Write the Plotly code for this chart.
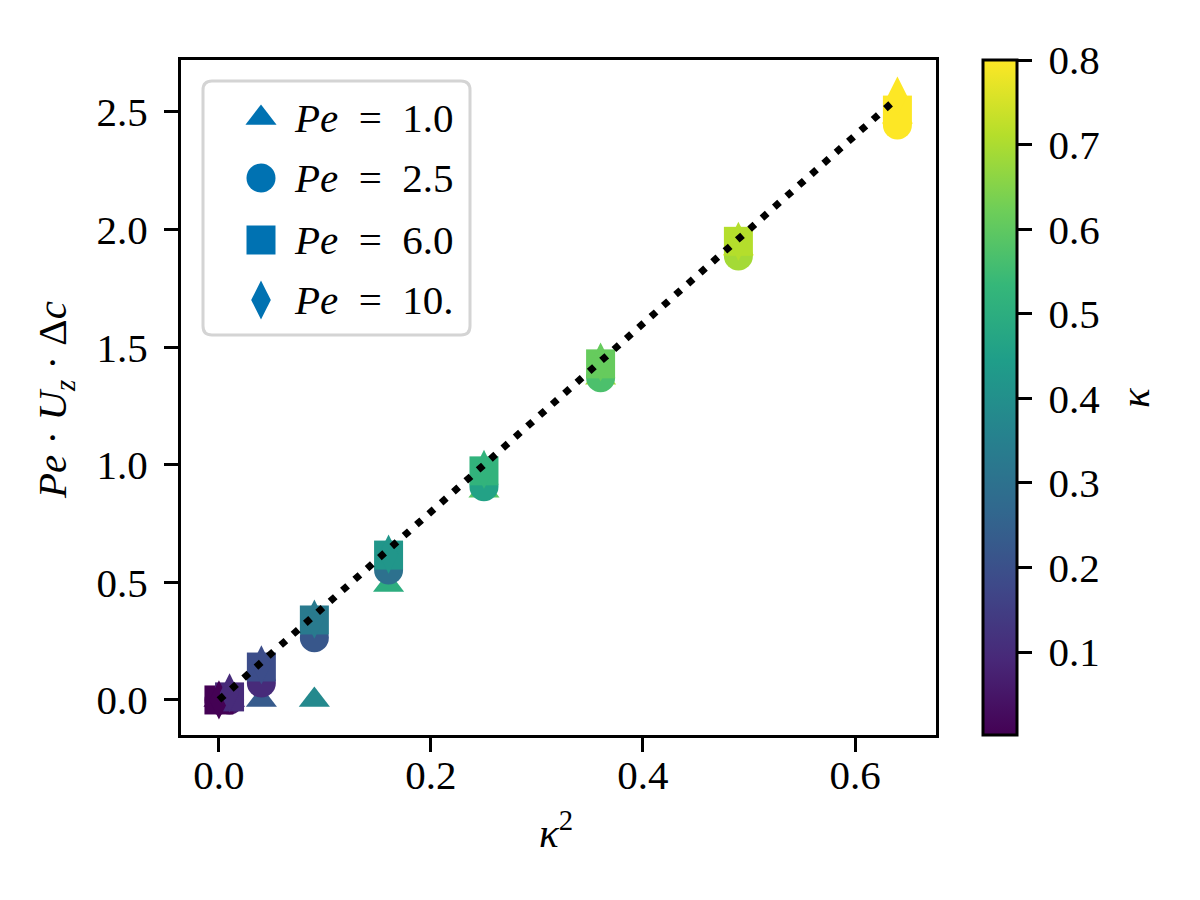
"""Pe*Uz*dc against kappa^2, coloured by kappa, one marker per Pe."""
import plotly.graph_objects as go

# --- data ---
kappa_sq = [0.0, 0.01, 0.04, 0.09, 0.16, 0.25, 0.36, 0.49, 0.64]

pe_labels = ["1.0", "2.5", "6.0", "10."]

y_pe1 = [0.0, 0.0, 0.0, 0.0, 0.489, 0.889, 1.37, 1.92, 2.48]
y_pe25 = [0.0, 0.0, 0.072, 0.264, 0.553, 0.906, 1.37, 1.888, 2.445]
y_pe6 = [0.0, 0.013, 0.14, 0.34, 0.616, 0.974, 1.429, 1.95, 2.508]
y_pe10 = [0.0, 0.03, 0.149, 0.344, 0.62, 0.98, 1.437, 1.95, 2.568]

# colour value (kappa) of each marker as it appears in the picture
c_pe1 = [0.002, 0.1, 0.23, 0.38, 0.5, 0.59, 0.69, 0.78, 0.8]
c_pe25 = [0.002, 0.05, 0.1, 0.22, 0.3, 0.46, 0.57, 0.69, 0.8]
c_pe6 = [0.002, 0.1, 0.19, 0.33, 0.42, 0.52, 0.61, 0.71, 0.8]
c_pe10 = [0.002, 0.1, 0.19, 0.33, 0.42, 0.52, 0.61, 0.71, 0.8]

# dotted reference line
line_x = [0.0, 0.64]
line_y = [0.0, 2.56]

x_ticks = [0.0, 0.2, 0.4, 0.6]
y_ticks = [0.0, 0.5, 1.0, 1.5, 2.0, 2.5]
cbar_ticks = [0.1, 0.2, 0.3, 0.4, 0.5, 0.6, 0.7, 0.8]

# --- style ---
FONT = "Liberation Serif"
FS = 41
CMIN, CMAX = 0.002, 0.8
W_PLOT, H_PLOT = 755, 675  # plot area in px
# page is shown with the browser's 8px body margin, so pull everything back
OFF = 8
LEFT, TOP = 181 - OFF, 60 - OFF
LEGEND_BLUE = "#0072B2"


def px(x):
    """reference pixel x -> paper x"""
    return (x - 181) / W_PLOT


def py(y):
    """reference pixel y -> paper y"""
    return (735 - y) / H_PLOT


series = [
    (y_pe1, c_pe1, "triangle-up", 27),
    (y_pe25, c_pe25, "circle", 29),
    (y_pe6, c_pe6, "square", 29),
    (y_pe10, c_pe10, "diamond-tall", 28),
]

fig = go.Figure()
for i, (ys, cs, sym, size) in enumerate(series):
    marker = dict(
        symbol=sym, size=size, color=cs, colorscale="Viridis",
        cmin=CMIN, cmax=CMAX, line=dict(width=0), opacity=1,
    )
    if i == len(series) - 1:
        marker["showscale"] = True
        marker["colorbar"] = dict(
            x=px(983), xanchor="left", xpad=0,
            y=0, yanchor="bottom", ypad=0, len=1, lenmode="fraction",
            thickness=34, outlinewidth=3, outlinecolor="black",
            tickvals=cbar_ticks, ticktext=[f"\u2009{v:.1f}" for v in cbar_ticks],
            ticks="outside", ticklen=14, tickwidth=3, tickcolor="black",
            tickfont=dict(family=FONT, size=FS, color="black"),
        )
    fig.add_trace(go.Scatter(
        x=kappa_sq, y=ys, mode="markers", marker=marker, showlegend=False,
    ))

fig.add_trace(go.Scatter(
    x=line_x, y=line_y, mode="lines",
    line=dict(color="black", width=7, dash="7px,9.5px"),
    showlegend=False,
))

# --- hand-made legend (pixel overlay axis for the keys) ---
leg_rows = [617, 557, 495, 435]
fig.add_trace(go.Scatter(
    x=[80] * len(leg_rows), y=leg_rows, mode="markers",
    marker=dict(
        symbol=[s[2] for s in series], size=[s[3] for s in series],
        color=LEGEND_BLUE, line=dict(width=0), opacity=1,
    ),
    xaxis="x2", yaxis="y2", showlegend=False, hoverinfo="skip",
))
bx0, bx1, by0, by1 = px(203), px(470), py(335), py(81)
rx, ry = 9 / W_PLOT, 9 / H_PLOT
legend_box = (
    f"M {bx0 + rx},{by1} L {bx1 - rx},{by1} Q {bx1},{by1} {bx1},{by1 - ry} "
    f"L {bx1},{by0 + ry} Q {bx1},{by0} {bx1 - rx},{by0} "
    f"L {bx0 + rx},{by0} Q {bx0},{by0} {bx0},{by0 + ry} "
    f"L {bx0},{by1 - ry} Q {bx0},{by1} {bx0 + rx},{by1} Z"
)
fig.add_shape(
    type="path", path=legend_box, xref="paper", yref="paper",
    fillcolor="white", line=dict(color="#d4d4d4", width=3), layer="below",
)
annotations = []
for label, yy in zip(pe_labels, leg_rows):
    annotations.append(dict(
        x=111, y=yy, xref="x2", yref="y2",
        text=f"<i>Pe</i>\u2002=\u2002{label}", showarrow=False,
        xanchor="left", yanchor="middle",
        font=dict(family=FONT, size=FS, color="black"),
    ))

# axis titles
annotations.append(dict(
    x=px(556), y=py(830), xref="paper", yref="paper",
    text="<i>κ</i><sup>2</sup>", showarrow=False, xanchor="center", yanchor="middle",
    font=dict(family=FONT, size=FS, color="black"),
))
annotations.append(dict(
    x=px(55), y=py(400), xref="paper", yref="paper",
    text="<i>Pe</i> · <i>U<sub>z</sub></i> · Δ<i>c</i>", showarrow=False,
    textangle=-90, xanchor="center", yanchor="middle",
    font=dict(family=FONT, size=FS, color="black"),
))
annotations.append(dict(
    x=px(1135), y=py(398), xref="paper", yref="paper",
    text="<i>κ</i>", showarrow=False, textangle=-90,
    xanchor="center", yanchor="middle",
    font=dict(family=FONT, size=FS, color="black"),
))

axis_common = dict(
    showline=True, linecolor="black", linewidth=3, mirror=True,
    ticks="outside", ticklen=14, tickwidth=3, tickcolor="black",
    showgrid=False, zeroline=False,
    tickfont=dict(family=FONT, size=FS, color="black"),
)

fig.update_layout(
    width=1200, height=900,
    margin=dict(l=LEFT, r=1200 - LEFT - W_PLOT, t=TOP, b=900 - TOP - H_PLOT),
    paper_bgcolor="white", plot_bgcolor="white",
    xaxis=dict(
        range=[-0.0358, 0.6764], tickvals=x_ticks,
        ticktext=[f"{v:.1f}" for v in x_ticks], ticklabelstandoff=-12,
        **axis_common,
    ),
    yaxis=dict(
        range=[-0.149, 2.721], tickvals=y_ticks,
        ticktext=[f"{v:.1f}" for v in y_ticks], ticklabelstandoff=8,
        **axis_common,
    ),
    xaxis2=dict(range=[0, W_PLOT], overlaying="x", visible=False, fixedrange=True),
    yaxis2=dict(range=[0, H_PLOT], overlaying="y", visible=False, fixedrange=True),
    annotations=annotations,
    showlegend=False,
)

fig.write_html("out.html")
